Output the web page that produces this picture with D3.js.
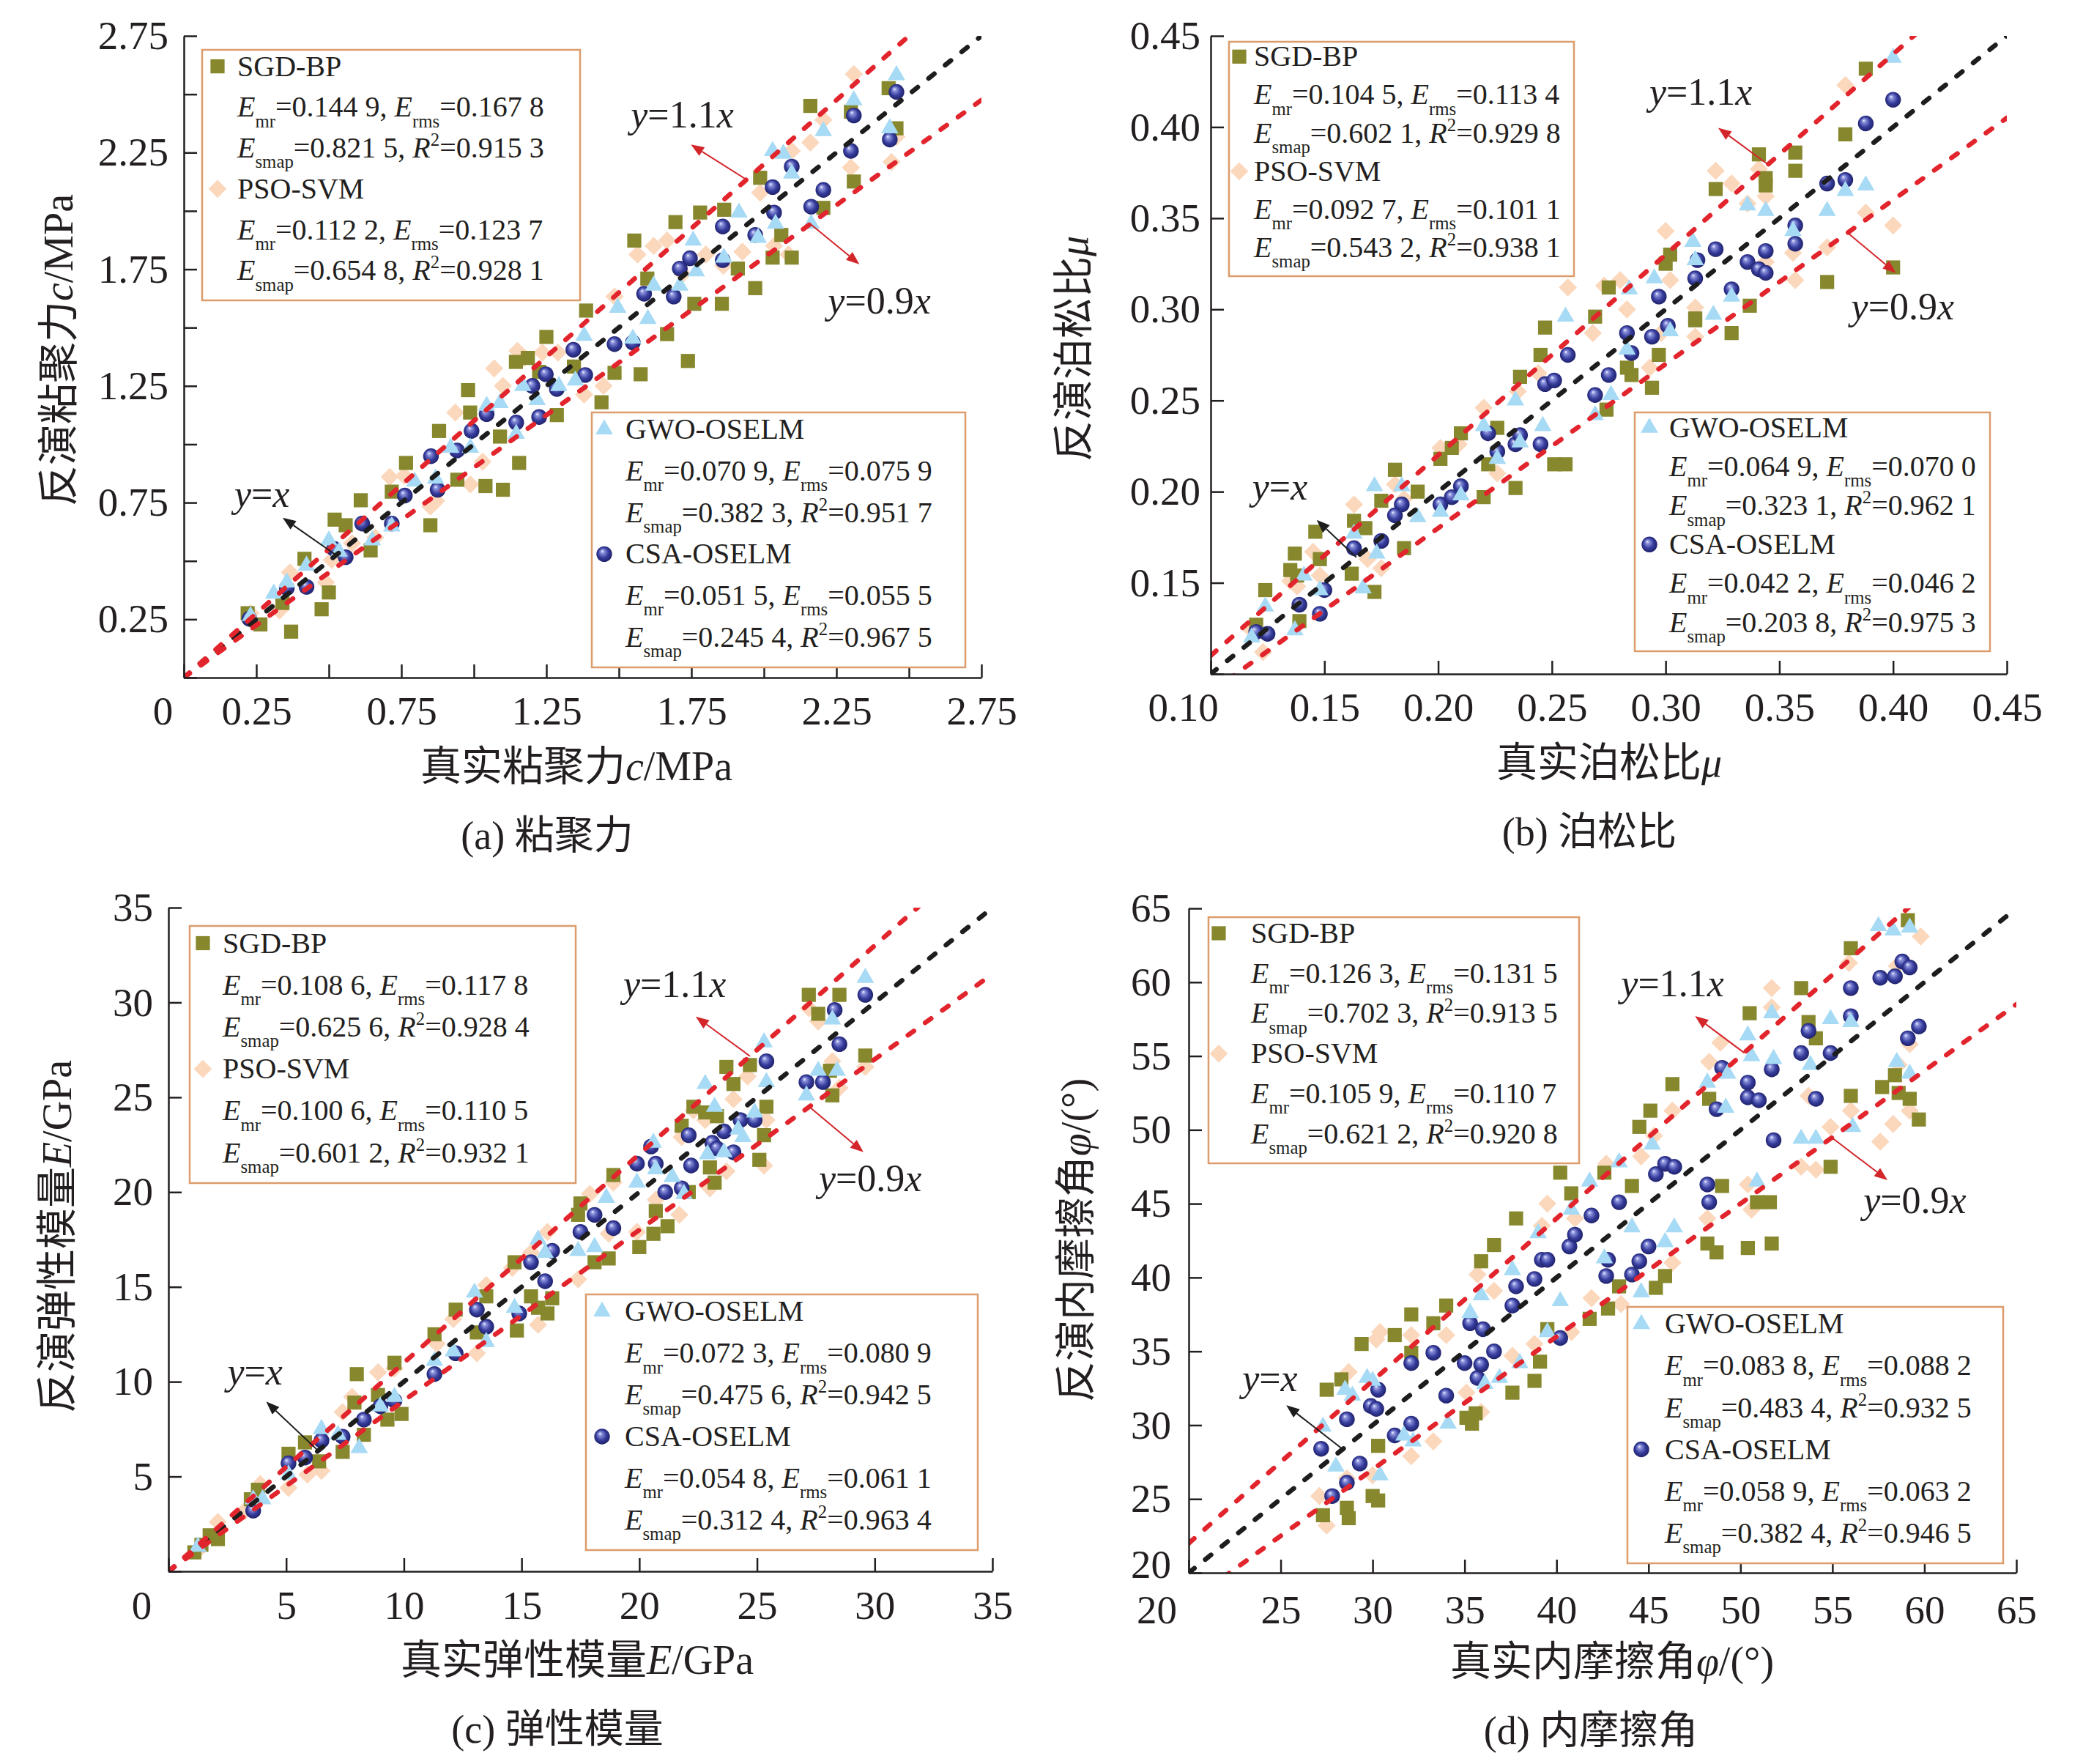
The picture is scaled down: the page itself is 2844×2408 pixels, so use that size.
<!DOCTYPE html>
<html>
<head>
<meta charset="utf-8">
<script src="https://cdn.jsdelivr.net/npm/d3@7"></script>
<style>
  body { margin: 0; background: #fff; }
  svg { display: block; }
  text { white-space: pre; }
</style>
</head>
<body>
<svg id="chart"></svg>
<script>
const seriesNames = ["SGD-BP", "PSO-SVM", "GWO-OSELM", "CSA-OSELM"];

// (a) cohesion c/MPa : [true, inverted]
const cohesionSGD = [[0.22,0.276],[0.264,0.228],[0.34,0.32],[0.37,0.197],[0.416,0.509],[0.475,0.293],[0.5,0.365],[0.52,0.677],[0.558,0.653],[0.61,0.76],[0.644,0.545],[0.717,0.797],[0.766,0.92],[0.85,0.653],[0.88,1.057],[0.943,0.848],[0.98,1.232],[0.987,1.136],[1.04,0.821],[1.09,1.033],[1.1,0.805],[1.156,0.92],[1.145,1.353],[1.186,1.37],[1.225,1.31],[1.25,1.46],[1.286,1.125],[1.345,1.333],[1.387,1.573],[1.44,1.18],[1.485,1.306],[1.553,1.873],[1.575,1.3],[1.598,1.71],[1.666,1.472],[1.695,1.952],[1.738,1.357],[1.76,1.602],[1.78,1.993],[1.855,1.602],[1.863,2.005],[1.91,1.753],[1.97,1.669],[1.987,2.142],[2.03,1.8],[2.06,1.897],[2.096,1.8],[2.16,2.45],[2.205,2.013],[2.3,2.425],[2.31,2.126],[2.43,2.526],[2.457,2.354]];
const cohesionPSO = [[0.23,0.276],[0.33,0.288],[0.366,0.451],[0.49,0.408],[0.51,0.504],[0.58,0.576],[0.66,0.6],[0.71,0.86],[0.76,0.865],[0.85,0.733],[0.87,0.757],[0.936,1.136],[0.988,0.828],[1.03,0.925],[1.07,1.325],[1.1,1.25],[1.15,1.4],[1.175,1.37],[1.236,1.393],[1.29,1.393],[1.38,1.213],[1.447,1.25],[1.485,1.633],[1.564,1.813],[1.62,1.85],[1.666,1.873],[1.72,1.73],[1.8,1.813],[1.86,1.765],[1.926,1.825],[1.987,2.078],[2.035,1.85],[2.085,1.813],[2.096,2.257],[2.16,2.293],[2.205,2.39],[2.3,2.186],[2.31,2.586],[2.44,2.21],[2.457,2.318]];
const cohesionGWO = [[0.23,0.264],[0.31,0.36],[0.355,0.408],[0.423,0.48],[0.5,0.588],[0.535,0.54],[0.65,0.588],[0.717,0.648],[0.796,0.84],[0.868,0.853],[0.92,0.985],[0.988,0.985],[1.044,1.165],[1.09,1.177],[1.146,1.045],[1.169,1.25],[1.218,1.189],[1.293,1.25],[1.35,1.273],[1.38,1.465],[1.496,1.585],[1.548,1.453],[1.6,1.537],[1.62,1.68],[1.71,1.68],[1.756,1.873],[1.767,1.741],[1.862,1.8],[1.914,1.993],[1.98,1.885],[2.04,1.945],[2.03,2.257],[2.067,2.245],[2.096,2.16],[2.163,1.945],[2.205,2.342],[2.31,2.474],[2.434,2.354],[2.457,2.582]];
const cohesionCSA = [[0.226,0.252],[0.355,0.384],[0.423,0.389],[0.518,0.552],[0.558,0.516],[0.615,0.66],[0.717,0.66],[0.762,0.78],[0.852,0.949],[0.875,0.805],[0.942,0.973],[0.992,1.057],[1.044,1.129],[1.146,1.093],[1.202,1.25],[1.225,1.117],[1.248,1.3],[1.286,1.237],[1.343,1.405],[1.384,1.297],[1.485,1.429],[1.548,1.436],[1.587,1.645],[1.689,1.633],[1.71,1.753],[1.745,1.797],[1.858,1.789],[1.858,1.933],[1.97,1.897],[2.03,2.102],[2.035,1.993],[2.096,2.19],[2.163,2.018],[2.205,2.09],[2.3,2.257],[2.31,2.409],[2.434,2.306],[2.457,2.51]];

// (b) Poisson's ratio
const poissonSGD = [[0.12,0.127],[0.124,0.146],[0.135,0.157],[0.137,0.166],[0.138,0.154],[0.139,0.129],[0.146,0.178],[0.148,0.163],[0.162,0.155],[0.163,0.184],[0.168,0.18],[0.172,0.145],[0.175,0.195],[0.181,0.212],[0.185,0.169],[0.191,0.2],[0.201,0.218],[0.206,0.224],[0.21,0.232],[0.22,0.197],[0.222,0.215],[0.226,0.235],[0.234,0.202],[0.236,0.263],[0.245,0.275],[0.247,0.29],[0.251,0.215],[0.256,0.215],[0.269,0.296],[0.274,0.245],[0.275,0.312],[0.283,0.268],[0.285,0.264],[0.294,0.257],[0.297,0.275],[0.3,0.325],[0.302,0.33],[0.313,0.295],[0.313,0.294],[0.322,0.366],[0.329,0.287],[0.337,0.302],[0.341,0.385],[0.344,0.368],[0.344,0.372],[0.357,0.376],[0.357,0.386],[0.371,0.315],[0.379,0.396],[0.388,0.432],[0.4,0.323]];
const poissonPSO = [[0.118,0.124],[0.123,0.112],[0.135,0.151],[0.138,0.148],[0.145,0.167],[0.148,0.154],[0.163,0.193],[0.169,0.163],[0.175,0.158],[0.181,0.204],[0.185,0.196],[0.201,0.224],[0.209,0.226],[0.22,0.246],[0.226,0.21],[0.235,0.255],[0.244,0.265],[0.257,0.312],[0.268,0.287],[0.273,0.313],[0.28,0.316],[0.283,0.3],[0.293,0.268],[0.298,0.287],[0.3,0.343],[0.302,0.316],[0.313,0.301],[0.313,0.285],[0.322,0.376],[0.329,0.369],[0.336,0.358],[0.341,0.377],[0.344,0.362],[0.344,0.326],[0.356,0.331],[0.357,0.316],[0.371,0.334],[0.379,0.423],[0.388,0.353],[0.4,0.346]];
const poissonGWO = [[0.118,0.12],[0.124,0.137],[0.137,0.124],[0.141,0.154],[0.148,0.146],[0.163,0.177],[0.167,0.147],[0.172,0.203],[0.173,0.166],[0.184,0.203],[0.191,0.186],[0.201,0.189],[0.21,0.198],[0.22,0.236],[0.226,0.218],[0.234,0.25],[0.236,0.227],[0.246,0.236],[0.256,0.296],[0.269,0.242],[0.276,0.253],[0.284,0.311],[0.283,0.278],[0.295,0.317],[0.302,0.288],[0.312,0.337],[0.313,0.327],[0.321,0.297],[0.329,0.307],[0.336,0.357],[0.344,0.354],[0.356,0.343],[0.371,0.354],[0.379,0.365],[0.388,0.368],[0.4,0.438]];
const poissonCSA = [[0.12,0.123],[0.125,0.122],[0.139,0.138],[0.15,0.146],[0.148,0.133],[0.163,0.169],[0.175,0.173],[0.184,0.193],[0.181,0.187],[0.201,0.193],[0.206,0.197],[0.21,0.203],[0.222,0.232],[0.226,0.222],[0.234,0.226],[0.236,0.231],[0.245,0.226],[0.247,0.259],[0.251,0.261],[0.257,0.275],[0.269,0.253],[0.275,0.264],[0.283,0.287],[0.285,0.276],[0.294,0.285],[0.297,0.307],[0.301,0.291],[0.313,0.317],[0.314,0.327],[0.322,0.333],[0.329,0.311],[0.336,0.326],[0.341,0.322],[0.344,0.32],[0.344,0.332],[0.357,0.346],[0.357,0.336],[0.371,0.369],[0.379,0.371],[0.388,0.402],[0.4,0.415]];

// (c) elastic modulus E/GPa
const modulusSGD = [[1.1,1.0],[1.4,1.4],[1.75,1.9],[2.1,1.7],[3.5,3.8],[3.8,4.3],[5.1,6.2],[5.8,6.8],[6.4,5.8],[7.4,6.3],[8.0,10.4],[7.9,8.9],[8.3,7.2],[8.9,9.3],[9.6,11.0],[9.3,8.0],[9.9,8.3],[11.3,12.5],[12.2,13.8],[13.1,12.6],[13.5,14.5],[14.7,16.3],[14.8,12.7],[15.4,14.5],[15.7,13.9],[16.1,13.6],[16.3,14.4],[17.5,19.4],[17.4,18.8],[18.1,16.3],[18.7,16.5],[18.9,20.9],[20.0,17.1],[20.6,17.8],[20.7,19.0],[21.2,18.2],[21.8,23.5],[22.1,20.0],[22.3,24.5],[22.8,24.2],[23.0,21.3],[23.2,20.5],[23.3,24.0],[23.7,26.6],[24.0,25.7],[24.7,26.7],[25.1,21.7],[25.3,23.0],[25.4,24.5],[27.2,30.4],[27.6,29.4],[28.1,26.4],[28.2,25.1],[28.5,30.4],[29.6,27.2]];
const modulusPSO = [[1.25,1.1],[2.1,2.6],[3.25,3.2],[3.9,4.6],[5.1,4.4],[5.9,5.1],[6.5,5.3],[7.4,8.4],[7.8,9.2],[8.9,10.5],[9.6,10.7],[11.4,12.0],[12.1,13.3],[13.1,11.5],[13.5,15.1],[14.6,16.0],[15.4,16.8],[15.7,13.0],[16.1,17.9],[17.4,15.4],[17.9,19.9],[18.7,17.8],[18.9,20.5],[19.9,17.9],[20.7,19.6],[21.7,18.8],[21.8,22.9],[22.3,24.3],[22.8,23.8],[23.0,20.2],[23.7,21.1],[24.0,24.9],[24.6,26.1],[25.3,21.4],[25.4,23.8],[27.2,29.7],[27.6,29.0],[28.2,26.9],[28.5,25.5],[29.6,26.6]];
const modulusGWO = [[1.25,1.3],[3.6,3.8],[4.0,3.8],[5.1,5.1],[6.5,7.5],[7.2,7.2],[8.1,6.5],[9.0,8.7],[9.6,9.2],[11.3,11.1],[12.1,11.6],[13.0,14.7],[13.5,12.1],[14.7,13.9],[15.7,17.5],[16.0,16.8],[17.4,16.9],[18.1,17.1],[18.6,19.7],[19.9,20.5],[20.6,22.6],[20.7,21.2],[21.4,20.8],[21.9,19.9],[22.8,25.7],[22.9,22.0],[23.2,24.5],[23.6,22.1],[24.2,23.3],[24.4,22.9],[24.9,24.2],[25.3,27.9],[25.4,25.8],[27.1,25.1],[27.6,26.4],[28.2,29.1],[28.4,26.4],[29.6,31.3]];
const modulusCSA = [[3.6,3.2],[5.1,5.7],[5.8,6.0],[6.5,6.9],[7.4,7.1],[8.3,8.0],[9.0,8.7],[9.6,9.0],[11.3,10.4],[12.2,11.5],[13.1,13.8],[13.5,12.9],[14.9,13.6],[15.4,16.3],[16.0,15.3],[16.3,16.9],[17.5,17.9],[18.1,18.8],[18.9,18.1],[19.9,21.5],[20.5,22.4],[20.7,21.5],[21.1,20.0],[21.8,20.2],[22.1,23.0],[22.2,21.4],[23.1,22.6],[23.3,22.3],[23.6,23.2],[24.0,22.1],[24.3,23.8],[24.9,23.8],[25.4,26.9],[27.1,25.8],[27.8,25.8],[28.3,29.6],[28.5,27.8],[29.6,30.4]];

// (d) internal friction angle φ/(°)
const frictionSGD = [[27.3,23.9],[27.5,32.4],[28.3,33.1],[28.6,24.4],[28.7,23.7],[29.4,35.5],[30.0,25.2],[30.3,24.9],[30.3,28.6],[31.2,36.1],[32.1,37.5],[32.1,34.9],[33.3,36.9],[34.0,38.1],[35.1,30.5],[35.4,30.1],[35.6,30.8],[35.9,41.1],[36.6,42.2],[37.6,32.2],[37.8,44.0],[38.8,33.0],[39.1,34.3],[39.5,36.5],[40.2,47.1],[40.8,45.7],[41.8,37.2],[42.6,47.1],[42.8,37.9],[43.4,39.4],[44.1,46.2],[44.5,50.2],[45.1,51.3],[45.4,39.3],[45.9,40.1],[46.3,53.1],[48.3,52.1],[48.2,42.3],[48.7,41.7],[49.0,46.2],[50.5,57.9],[50.4,42.0],[50.9,45.1],[51.6,45.1],[51.7,42.3],[53.3,59.6],[53.7,57.3],[54.1,56.2],[54.9,47.5],[56.0,52.3],[56.0,62.3],[57.7,52.9],[58.4,53.7],[58.6,52.5],[59.1,64.2],[59.2,52.1],[59.7,50.7]];
const frictionPSO = [[27.1,25.2],[27.5,23.2],[28.6,26.4],[28.7,33.6],[30.0,26.6],[30.2,35.8],[30.4,36.3],[32.1,27.9],[32.1,36.1],[33.3,28.9],[34.0,36.1],[35.1,32.2],[35.7,40.2],[35.9,30.9],[36.6,39.1],[37.6,34.7],[38.8,35.5],[39.2,43.5],[39.5,45.0],[40.8,36.3],[41.0,44.0],[41.9,38.6],[42.7,47.7],[43.5,38.2],[44.6,48.2],[45.3,49.6],[46.3,51.3],[46.3,41.0],[48.2,44.0],[48.3,54.6],[48.9,55.9],[50.4,46.3],[50.6,44.6],[51.7,59.6],[51.7,58.3],[53.3,47.5],[53.7,52.3],[54.1,47.3],[54.9,50.2],[55.9,61.3],[56.0,51.3],[57.6,49.2],[58.3,50.4],[58.5,61.1],[58.6,54.4],[59.2,51.3],[59.2,55.8],[59.8,63.1]];
const frictionGWO = [[27.3,29.9],[28.0,27.2],[28.5,32.4],[28.9,32.0],[29.7,33.2],[30.0,33.0],[30.4,26.6],[31.7,29.3],[32.2,28.9],[34.1,30.1],[35.3,37.6],[35.9,38.8],[36.1,32.8],[36.9,33.2],[37.6,40.5],[38.0,34.2],[39.0,43.0],[39.5,36.3],[40.2,38.4],[40.8,44.6],[41.8,46.5],[42.6,41.3],[43.4,47.8],[44.1,43.4],[44.6,39.0],[45.9,42.4],[46.4,43.4],[45.2,49.0],[48.2,53.2],[49.2,51.5],[49.3,53.8],[50.4,56.4],[50.6,55.0],[50.9,46.5],[51.7,57.9],[51.8,54.8],[53.3,49.4],[53.8,54.4],[54.1,49.4],[54.9,57.5],[56.0,57.3],[56.1,50.2],[57.5,63.8],[58.3,63.5],[58.5,54.6],[59.2,63.7],[59.2,53.8]];
const frictionCSA = [[27.2,28.4],[27.8,25.2],[28.6,30.4],[28.6,26.1],[29.3,27.4],[29.9,31.3],[30.2,31.1],[30.3,32.4],[31.2,29.3],[32.1,34.2],[32.1,30.1],[33.3,34.9],[34.0,32.0],[35.0,34.2],[35.3,36.9],[35.7,33.2],[35.9,34.1],[36.0,36.5],[36.6,35.0],[37.6,38.1],[37.8,39.4],[38.8,39.9],[39.2,41.2],[39.5,41.2],[40.2,35.9],[40.7,42.1],[41.0,42.9],[41.9,44.2],[42.7,40.1],[42.8,41.2],[43.4,45.1],[44.1,40.2],[44.5,41.1],[45.0,42.1],[45.4,47.0],[45.9,47.7],[46.4,47.5],[48.2,46.3],[48.3,45.1],[49.0,54.2],[48.7,51.4],[50.4,53.2],[50.4,52.2],[51.0,52.0],[51.7,54.1],[51.8,49.3],[53.3,55.2],[53.7,56.7],[54.1,52.1],[54.9,55.2],[56.0,57.7],[56.0,59.6],[57.6,60.3],[58.4,60.4],[58.8,61.4],[59.2,61.0],[59.1,56.2],[59.7,57.0]];

// legend metrics per model: Emr, Erms, Esmap, R2
const cohesionMetrics = [["0.144 9","0.167 8","0.821 5","0.915 3"],["0.112 2","0.123 7","0.654 8","0.928 1"],["0.070 9","0.075 9","0.382 3","0.951 7"],["0.051 5","0.055 5","0.245 4","0.967 5"]];
const poissonMetrics = [["0.104 5","0.113 4","0.602 1","0.929 8"],["0.092 7","0.101 1","0.543 2","0.938 1"],["0.064 9","0.070 0","0.323 1","0.962 1"],["0.042 2","0.046 2","0.203 8","0.975 3"]];
const modulusMetrics = [["0.108 6","0.117 8","0.625 6","0.928 4"],["0.100 6","0.110 5","0.601 2","0.932 1"],["0.072 3","0.080 9","0.475 6","0.942 5"],["0.054 8","0.061 1","0.312 4","0.963 4"]];
const frictionMetrics = [["0.126 3","0.131 5","0.702 3","0.913 5"],["0.105 9","0.110 7","0.621 2","0.920 8"],["0.083 8","0.088 2","0.483 4","0.932 5"],["0.058 9","0.063 2","0.382 4","0.946 5"]];

// ticks and labels
const cohesionTicks = [0, 0.25, 0.5, 0.75, 1, 1.25, 1.5, 1.75, 2, 2.25, 2.5, 2.75];
const cohesionXLabels = ["0", "0.25", "", "0.75", "", "1.25", "", "1.75", "", "2.25", "", "2.75"];
const cohesionYLabels = ["", "0.25", "", "0.75", "", "1.25", "", "1.75", "", "2.25", "", "2.75"];
const poissonTicks = [0.10, 0.15, 0.20, 0.25, 0.30, 0.35, 0.40, 0.45];
const poissonXLabels = ["0.10", "0.15", "0.20", "0.25", "0.30", "0.35", "0.40", "0.45"];
const poissonYLabels = ["", "0.15", "0.20", "0.25", "0.30", "0.35", "0.40", "0.45"];
const modulusTicks = [0, 5, 10, 15, 20, 25, 30, 35];
const modulusXLabels = ["0", "5", "10", "15", "20", "25", "30", "35"];
const modulusYLabels = ["", "5", "10", "15", "20", "25", "30", "35"];
const frictionTicks = [20, 25, 30, 35, 40, 45, 50, 55, 60, 65];
const frictionXLabels = ["20", "25", "30", "35", "40", "45", "50", "55", "60", "65"];
const frictionYLabels = ["20", "25", "30", "35", "40", "45", "50", "55", "60", "65"];

const INK = "#231f20";
const SERIF = "'Liberation Serif','Times New Roman','Noto Sans CJK SC',serif";
const fills = ["#87882e", "#fbd7bc", "#a6daf5", "url(#sphere)"];
const symbols = [
  d3.symbol().type(d3.symbolSquare).size(370),
  d3.symbol().type(d3.symbolDiamond2).size(390),
  d3.symbol().type(d3.symbolTriangle).size(245),
  d3.symbol().type(d3.symbolCircle).size(360)
];

const svg = d3.select("#chart").attr("width", 2844).attr("height", 2408);
svg.append("rect").attr("width", 2844).attr("height", 2408).attr("fill", "#fff");

const defs = svg.append("defs");
const grad = defs.append("radialGradient").attr("id", "sphere")
  .attr("cx", "0.5").attr("cy", "0.5").attr("r", "0.55").attr("fx", "0.36").attr("fy", "0.3");
grad.append("stop").attr("offset", "0").attr("stop-color", "#f2f4ff");
grad.append("stop").attr("offset", "0.2").attr("stop-color", "#8c93dc");
grad.append("stop").attr("offset", "0.6").attr("stop-color", "#363c9c");
grad.append("stop").attr("offset", "1").attr("stop-color", "#1b1d60");

function richText(sel, parts, size) {
  let shift = 0;
  parts.forEach(pt => {
    const target = pt.sub ? size * 0.36 : pt.sup ? -size * 0.4 : 0;
    sel.append("tspan")
      .attr("dy", target - shift)
      .attr("font-size", pt.sub || pt.sup ? size * 0.62 : size)
      .attr("font-style", pt.it ? "italic" : null)
      .text(pt.t);
    shift = target;
  });
  return sel;
}

function drawLegend(g, box, metrics, models) {
  g.append("rect")
    .attr("x", box.x).attr("y", box.y).attr("width", box.w).attr("height", box.h)
    .attr("fill", "#fff").attr("stroke", "#dc9c6c").attr("stroke-width", 2.5);
  const step = box.h * 0.163, y0 = box.y + box.h * 0.104, fs = 40;
  models.forEach((k, j) => {
    const by = y0 + j * 3 * step;
    g.append("path")
      .attr("transform", `translate(${box.x + box.mx},${by - 13})`)
      .attr("d", symbols[k]).attr("fill", fills[k]);
    const m = metrics[k];
    g.append("text").attr("x", box.x + box.tx).attr("y", by)
      .attr("font-family", SERIF).attr("font-size", fs).attr("fill", INK)
      .text(seriesNames[k]);
    richText(g.append("text").attr("x", box.x + box.tx).attr("y", by + step)
      .attr("font-family", SERIF).attr("fill", INK), [
      { t: "E", it: 1 }, { t: "mr", sub: 1 }, { t: "=" + m[0] + ", " },
      { t: "E", it: 1 }, { t: "rms", sub: 1 }, { t: "=" + m[1] }
    ], fs);
    richText(g.append("text").attr("x", box.x + box.tx).attr("y", by + 2 * step)
      .attr("font-family", SERIF).attr("fill", INK), [
      { t: "E", it: 1 }, { t: "smap", sub: 1 }, { t: "=" + m[2] + ", " },
      { t: "R", it: 1 }, { t: "2", sup: 1 }, { t: "=" + m[3] }
    ], fs);
  });
}

function arrow(g, x1, y1, x2, y2, color) {
  const ang = Math.atan2(y2 - y1, x2 - x1), L = 18, Wd = 7;
  const bx = x2 - L * Math.cos(ang), by = y2 - L * Math.sin(ang);
  g.append("line").attr("x1", x1).attr("y1", y1).attr("x2", bx).attr("y2", by)
    .attr("stroke", color).attr("stroke-width", 2);
  g.append("path")
    .attr("d", `M${x2},${y2}L${bx - Wd * Math.sin(ang)},${by + Wd * Math.cos(ang)}L${bx + Wd * Math.sin(ang)},${by - Wd * Math.cos(ang)}Z`)
    .attr("fill", color);
}

const panels = [
  { id: "a", left: 251, right: 1340, top: 49, bottom: 925, domain: [0, 2.75],
    ticks: cohesionTicks, xLabels: cohesionXLabels, yLabels: cohesionYLabels, firstShift: -29, xPad: 25, yPad: 21,
    series: [cohesionSGD, cohesionPSO, cohesionGWO, cohesionCSA], metrics: cohesionMetrics,
    xTitle: [{ t: "真实粘聚力" }, { t: "c", it: 1 }, { t: "/MPa" }],
    yTitle: [{ t: "反演粘聚力" }, { t: "c", it: 1 }, { t: "/MPa" }],
    caption: "(a) 粘聚力", xTitleX: 787, yTitlePos: [99, 478], captionX: 747,
    legends: [{ x: 276, y: 68, w: 516, h: 342, mx: 21, tx: 48 }, { x: 808, y: 563, w: 510, h: 348, mx: 17, tx: 46 }],
    ann: { eq: [0.525, -73, -51, -139, -66], up: [1.94, -76, -48, -158, -71], lo: [2.16, 67, 55, 24, 122] } },
  { id: "b", left: 1653, right: 2740, top: 49, bottom: 920, domain: [0.10, 0.45],
    ticks: poissonTicks, xLabels: poissonXLabels, yLabels: poissonYLabels, firstShift: -38, xPad: 25, yPad: 14,
    series: [poissonSGD, poissonPSO, poissonGWO, poissonCSA], metrics: poissonMetrics,
    xTitle: [{ t: "真实泊松比" }, { t: "μ", it: 1 }],
    yTitle: [{ t: "反演泊松比" }, { t: "μ", it: 1 }],
    caption: "(b) 泊松比", xTitleX: 2197, yTitlePos: [1485, 476], captionX: 2170,
    legends: [{ x: 1678, y: 57, w: 471, h: 320, mx: 14, tx: 34 }, { x: 2232, y: 563, w: 485, h: 326, mx: 20, tx: 47 }],
    ann: { eq: [0.164, -54, -51, -142, -79], up: [0.345, -68, -50, -162, -81], lo: [0.38, 66, 55, 5, 118] } },
  { id: "c", left: 230, right: 1355, top: 1239, bottom: 2145, domain: [0, 35],
    ticks: modulusTicks, xLabels: modulusXLabels, yLabels: modulusYLabels, firstShift: -37, xPad: 26, yPad: 21,
    series: [modulusSGD, modulusPSO, modulusGWO, modulusCSA], metrics: modulusMetrics,
    xTitle: [{ t: "真实弹性模量" }, { t: "E", it: 1 }, { t: "/GPa" }],
    yTitle: [{ t: "反演弹性模量" }, { t: "E", it: 1 }, { t: "/GPa" }],
    caption: "(c) 弹性模量", xTitleX: 788, yTitlePos: [97, 1688], captionX: 761,
    legends: [{ x: 259, y: 1264, w: 527, h: 351, mx: 18, tx: 45 }, { x: 800, y: 1767, w: 535, h: 349, mx: 22, tx: 53 }],
    ann: { eq: [6.36, -71, -67, -124, -90], up: [24.7, -74, -54, -173, -81], lo: [27.22, 74, 62, 13, 115] } },
  { id: "d", left: 1623, right: 2753, top: 1240, bottom: 2147, domain: [20, 65],
    ticks: frictionTicks, xLabels: frictionXLabels, yLabels: frictionYLabels, firstShift: -44, xPad: 30, yPad: 24,
    series: [frictionSGD, frictionPSO, frictionGWO, frictionCSA], metrics: frictionMetrics,
    xTitle: [{ t: "真实内摩擦角" }, { t: "φ", it: 1 }, { t: "/(°)" }],
    yTitle: [{ t: "反演内摩擦角" }, { t: "φ", it: 1 }, { t: "/(°)" }],
    caption: "(d) 内摩擦角", xTitleX: 2201, yTitlePos: [1488, 1693], captionX: 2172,
    legends: [{ x: 1650, y: 1252, w: 506, h: 336, mx: 14, tx: 58 }, { x: 2222, y: 1784, w: 513, h: 350, mx: 19, tx: 51 }],
    ann: { eq: [28.37, -77, -60, -137, -79], up: [50.2, -67, -50, -168, -77], lo: [54.97, 76, 58, 43, 103] } }
];

function drawPanel(p) {
  const x = d3.scaleLinear().domain(p.domain).range([p.left, p.right]);
  const y = d3.scaleLinear().domain(p.domain).range([p.bottom, p.top]);
  const g = svg.append("g").attr("class", "panel-" + p.id);

  defs.append("clipPath").attr("id", "clip-" + p.id)
    .append("rect").attr("x", p.left).attr("y", p.top)
    .attr("width", p.right - p.left).attr("height", p.bottom - p.top);

  // points: PSO, SGD, CSA, GWO
  [1, 0, 3, 2].forEach(k => {
    g.append("g").selectAll("path").data(p.series[k]).join("path")
      .attr("transform", d => `translate(${x(d[0])},${y(d[1])})`)
      .attr("d", symbols[k])
      .attr("fill", fills[k]);
  });

  // reference lines y=x, y=1.1x, y=0.9x
  const refs = g.append("g").attr("clip-path", `url(#clip-${p.id})`);
  [[1, "#1d1d1d"], [1.1, "#e2242c"], [0.9, "#e2242c"]].forEach(([k, c]) => {
    refs.append("line")
      .attr("x1", x(p.domain[0])).attr("y1", y(k * p.domain[0]))
      .attr("x2", x(p.domain[1])).attr("y2", y(k * p.domain[1]))
      .attr("stroke", c).attr("stroke-width", 6.5)
      .attr("stroke-linecap", "round").attr("stroke-dasharray", "10 19");
  });

  // axes with inward ticks
  const xAxis = d3.axisBottom(x).tickValues(p.ticks).tickSizeInner(-18).tickSizeOuter(0)
    .tickPadding(p.xPad).tickFormat((d, i) => p.xLabels[i]);
  const yAxis = d3.axisLeft(y).tickValues(p.ticks).tickSizeInner(-18).tickSizeOuter(0)
    .tickPadding(p.yPad).tickFormat((d, i) => p.yLabels[i]);
  const gx = g.append("g").attr("transform", `translate(0,${p.bottom})`).call(xAxis);
  const gy = g.append("g").attr("transform", `translate(${p.left},0)`).call(yAxis);
  [gx, gy].forEach(a => {
    a.select(".domain").attr("stroke", INK).attr("stroke-width", 2.5);
    a.selectAll(".tick line").attr("stroke", INK).attr("stroke-width", 2.5);
    a.selectAll(".tick text").attr("font-family", SERIF).attr("font-size", 55).attr("fill", INK);
  });
  gx.selectAll(".tick text").filter((d, i) => i === 0).attr("dx", p.firstShift);
  // lowest y label sits a touch above the x axis line
  gy.selectAll(".tick text").filter((d, i) => i === 0).attr("dy", "0.12em");

  // axis titles and caption
  richText(g.append("text").attr("x", p.xTitleX).attr("y", p.bottom + 140)
    .attr("text-anchor", "middle").attr("font-family", SERIF).attr("fill", INK), p.xTitle, 56);
  richText(g.append("text")
    .attr("transform", `translate(${p.yTitlePos[0]},${p.yTitlePos[1]}) rotate(-90)`)
    .attr("text-anchor", "middle").attr("font-family", SERIF).attr("fill", INK), p.yTitle, 56);
  g.append("text").attr("x", p.captionX).attr("y", p.bottom + 234)
    .attr("text-anchor", "middle").attr("font-family", SERIF).attr("font-size", 54)
    .attr("fill", INK).text(p.caption);

  // legends
  drawLegend(g, p.legends[0], p.metrics, [0, 1]);
  drawLegend(g, p.legends[1], p.metrics, [2, 3]);

  // line annotations
  const ann = [["eq", 1, "#1d1d1d", "="], ["up", 1.1, "#d3262b", "=1.1"], ["lo", 0.9, "#d3262b", "=0.9"]];
  ann.forEach(([key, k, c, mid]) => {
    const a = p.ann[key];
    const sx = x(a[0]), sy = y(k * a[0]);
    arrow(g, sx, sy, sx + a[1], sy + a[2], c);
    richText(g.append("text").attr("x", sx + a[3]).attr("y", sy + a[4])
      .attr("font-family", SERIF).attr("fill", INK),
      [{ t: "y", it: 1 }, { t: mid }, { t: "x", it: 1 }], 52);
  });
}

panels.forEach(drawPanel);
</script>
</body>
</html>
